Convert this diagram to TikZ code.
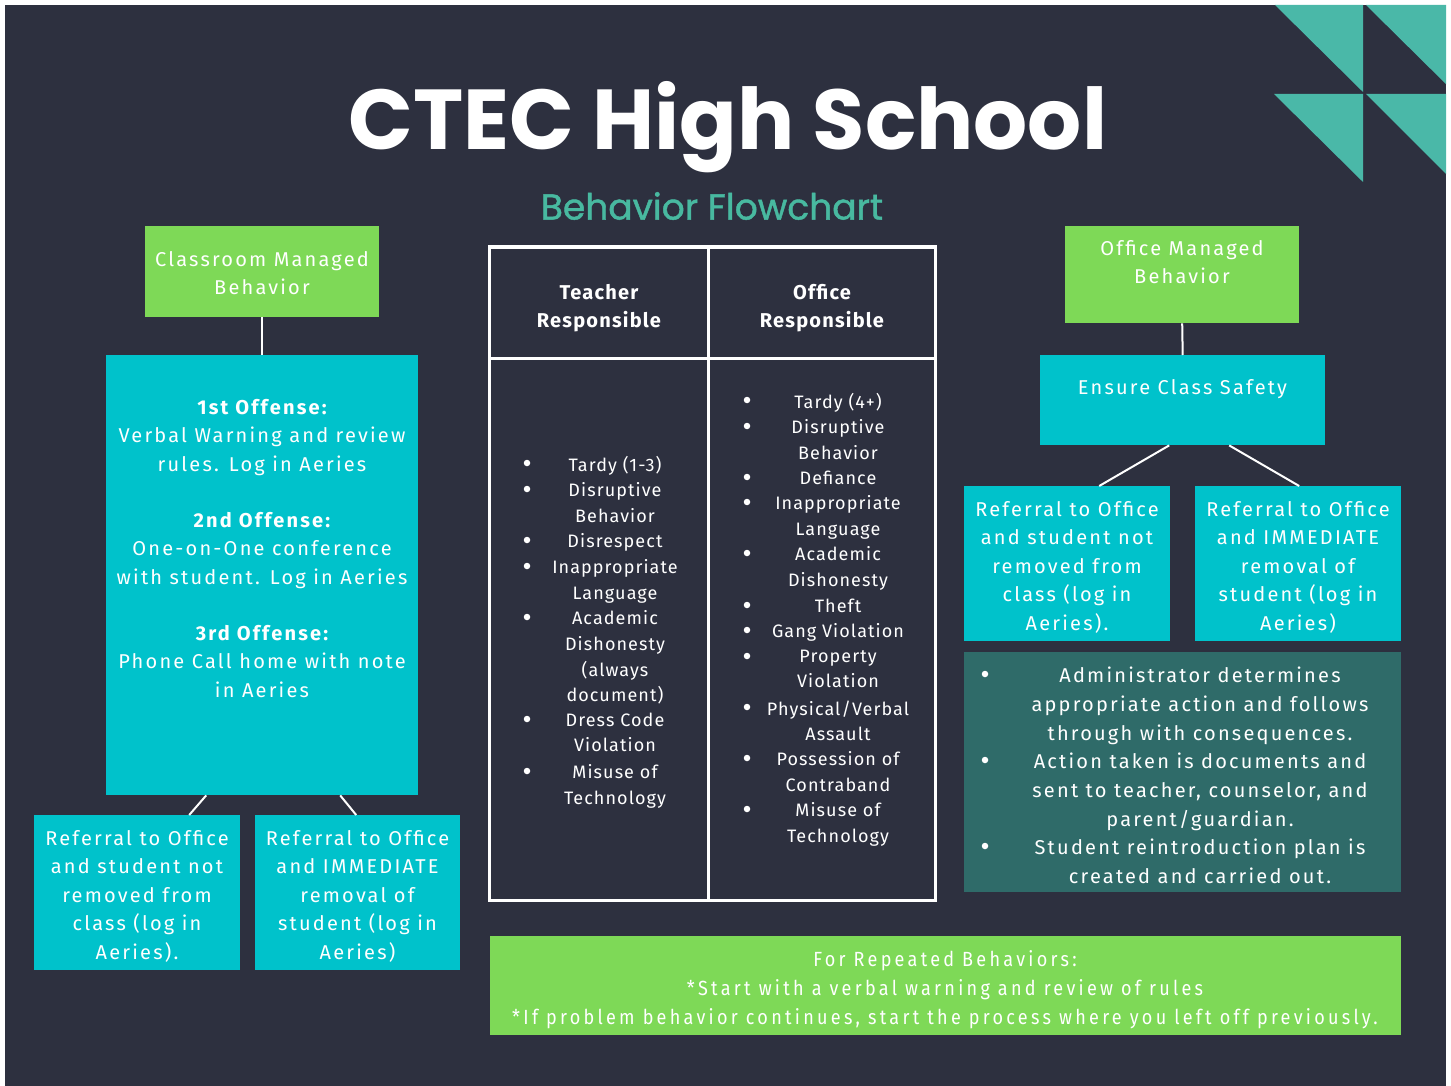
\documentclass[tikz,border=0pt]{standalone}
\usepackage{fontspec}
\setmainfont{Fira Sans}[LetterSpace=11]
\newfontfamily\listfam{Fira Sans}[LetterSpace=6]
\newfontfamily\titlefont{Poppins}
\newfontfamily\subfont{Poppins}[FakeBold=1.2]
\newfontfamily\condfont{Fira Sans}[FakeStretch=0.88, LetterSpace=16]
\definecolor{bg}{HTML}{2D303F}
\definecolor{leaf}{HTML}{7ED957}
\definecolor{aqua}{HTML}{00C2CB}
\definecolor{mint}{HTML}{4AB8A8}
\definecolor{deepteal}{HTML}{2F6B69}
\definecolor{subt}{HTML}{48B9A0}
\newcommand\bodyfont{\fontsize{20}{28.5}\selectfont}
\newcommand\listfont{\listfam\fontsize{18}{25.7}\selectfont}
\tikzset{
  box/.style={draw=none, inner sep=0, anchor=north west},
  txt/.style={text=white, inner sep=0, align=center, anchor=north, font=\bodyfont},
  ltxt/.style={text=white, inner sep=0, align=center, anchor=north, font=\listfont},
  dot/.style={circle, fill=white, inner sep=0, minimum size=6.5},
  link/.style={draw=white, line width=2},
  grid/.style={draw=white, line width=3}
}
\begin{document}
\begin{tikzpicture}[x=1pt,y=-1pt]
\useasboundingbox (0,0) rectangle (1451,1086);
\fill[white] (0,0) rectangle (1451,1086);
\fill[bg] (5,5) rectangle (1446,1086);

% corner ornament
\begin{scope}
  \clip (5,5) rectangle (1446,1086);
  \fill[mint] (1275,5) -- (1363,5) -- (1363,92) -- cycle;
  \fill[mint] (1366,5) -- (1454,5) -- (1454,92) -- cycle;
  \fill[mint] (1274,94) -- (1363,94) -- (1363,182) -- cycle;
  \fill[mint] (1366,94) -- (1454,94) -- (1454,182) -- cycle;
\end{scope}

% headings
\node[text=white, inner sep=0, font=\titlefont\bfseries\fontsize{85}{90}\selectfont] (title) at (728,127) {CTEC High School};
\node[text=subt, inner sep=0, font=\subfont\fontsize{36}{40}\selectfont] (subtitle) at (712,206) {Behavior Flowchart};

% left branch
\node[box, fill=leaf, minimum width=234, minimum height=91] (cmb) at (145,226) {};
\node[txt] (cmbt) at (262,251) {Classroom Managed\\Behavior};
\node[box, fill=aqua, minimum width=312, minimum height=440] (off) at (106,355) {};
\node[txt] (off1) at (262,399) {\bfseries 1st Offense:\\Verbal Warning and review\\rules. Log in Aeries};
\node[txt] (off2) at (262,512) {\bfseries 2nd Offense:\\One-on-One conference\\with student. Log in Aeries};
\node[txt] (off3) at (262,625) {\bfseries 3rd Offense:\\Phone Call home with note\\in Aeries};
\node[box, fill=aqua, minimum width=206, minimum height=155] (refA) at (34,815) {};
\node[txt] (refAt) at (137,830) {Referral to Office\\and student not\\removed from\\class (log in\\Aeries).};
\node[box, fill=aqua, minimum width=205, minimum height=155] (refB) at (255,815) {};
\node[txt] (refBt) at (357.5,830) {Referral to Office\\and IMMEDIATE\\removal of\\student (log in\\Aeries)};
\draw[link] (cmb.south) -- (off.north);
\draw[link] ([xshift=-56]off.south) -- ([xshift=52]refA.north);
\draw[link] ([xshift=78]off.south) -- ([xshift=-1.5]refB.north);

% responsibility table
\node[box, minimum width=446, minimum height=653] (tbl) at (489,247) {};
\draw[grid] (tbl.north west) rectangle (tbl.south east);
\draw[grid] ([xshift=219.5]tbl.north west) -- ([xshift=219.5]tbl.south west);
\draw[grid] ([yshift=-111]tbl.north west) -- ([yshift=-111]tbl.north east);
\node[txt, font=\listfam\bfseries\fontsize{20}{28}\selectfont] (thT) at (599,284) {Teacher\\Responsible};
\node[txt, font=\listfam\bfseries\fontsize{20}{28}\selectfont] (thO) at (822,284) {Office\\Responsible};
\foreach \y/\t [count=\i] in {463/{Tardy (1-3)}, 489/{Disruptive\\Behavior}, 540/{Disrespect},
    566/{Inappropriate\\Language}, 617/{Academic\\Dishonesty\\(always\\document)},
    719/{Dress Code\\Violation}, 771/{Misuse of\\Technology}} {
  \node[dot] (tb\i) at (527,\y) {};
  \node[ltxt] (tt\i) at (615,\y-6.5) {\t};
}
\foreach \y/\t [count=\i] in {400/{Tardy (4+)}, 426/{Disruptive\\Behavior}, 477/{Defiance},
    502/{Inappropriate\\Language}, 553/{Academic\\Dishonesty}, 605/{Theft},
    630/{Gang Violation}, 656/{Property\\Violation}, 707/{Physical/Verbal\\Assault},
    758/{Possession of\\Contraband}, 809/{Misuse of\\Technology}} {
  \node[dot] (ob\i) at (747,\y) {};
  \node[ltxt] (ot\i) at (838,\y-6.5) {\t};
}

% right branch
\node[box, fill=leaf, minimum width=234, minimum height=97] (omb) at (1065,226) {};
\node[txt] (ombt) at (1182,240) {Office Managed\\Behavior};
\node[box, fill=aqua, minimum width=285, minimum height=90] (safe) at (1040,355) {};
\node[txt] (safet) at (1182.5,379) {Ensure Class Safety};
\node[box, fill=aqua, minimum width=206, minimum height=155] (refC) at (964,486) {};
\node[txt] (refCt) at (1067,501) {Referral to Office\\and student not\\removed from\\class (log in\\Aeries).};
\node[box, fill=aqua, minimum width=206, minimum height=155] (refD) at (1195,486) {};
\node[txt] (refDt) at (1298,501) {Referral to Office\\and IMMEDIATE\\removal of\\student (log in\\Aeries)};
\draw[link] (omb.south) -- (safe.north);
\draw[link] ([xshift=-13.5]safe.south) -- ([xshift=32]refC.north);
\draw[link] ([xshift=46.5]safe.south) -- ([xshift=1]refD.north);
\node[box, fill=deepteal, minimum width=437, minimum height=240] (admin) at (964,652) {};
\node[txt, font=\fontsize{20}{28.6}\selectfont] (ad1) at (1200,667) {Administrator determines\\appropriate action and follows\\through with consequences.};
\node[txt, font=\fontsize{20}{28.6}\selectfont] (ad2) at (1200,753) {Action taken is documents and\\sent to teacher, counselor, and\\parent/guardian.};
\node[txt, font=\fontsize{20}{28.6}\selectfont] (ad3) at (1200,839) {Student reintroduction plan is\\created and carried out.};
\node[dot] (adb1) at (985,674) {};
\node[dot] (adb2) at (985,760) {};
\node[dot] (adb3) at (985,846) {};

% repeated behaviors note
\node[box, fill=leaf, minimum width=911, minimum height=99] (rep) at (490,936) {};
\node[txt, font=\condfont\fontsize{20.5}{29}\selectfont] (rept) at (945,950) {For Repeated Behaviors:\\*Start with a verbal warning and review of rules\\*If problem behavior continues, start the process where you left off previously.};
\end{tikzpicture}
\end{document}
